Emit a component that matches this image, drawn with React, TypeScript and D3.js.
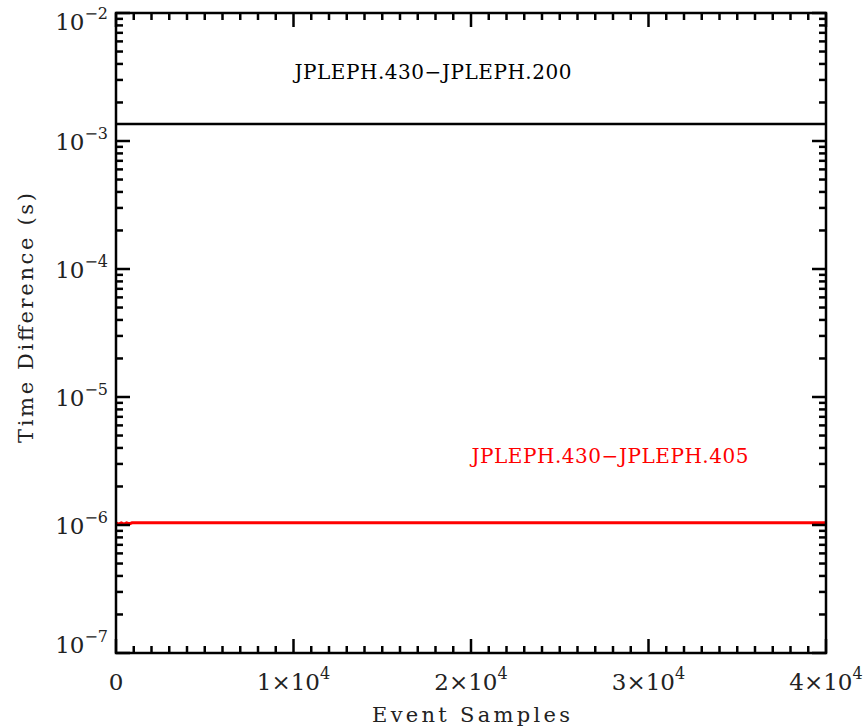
import React from "react";
import * as d3 from "d3";

// Event sample indices and the ephemeris time differences (seconds)
const sampleIndex: number[] = [0, 150, 300, 450, 600, 750, 900, 1050, 5000, 10000, 20000, 30000, 40000];
const diff430vs200: number[] = [1.36e-3, 1.36e-3, 1.36e-3, 1.36e-3, 1.36e-3, 1.36e-3, 1.36e-3, 1.36e-3, 1.36e-3, 1.36e-3, 1.36e-3, 1.36e-3, 1.36e-3];
const diff430vs405: number[] = [1.04e-6, 1.015e-6, 1.04e-6, 1.015e-6, 1.04e-6, 1.02e-6, 1.04e-6, 1.04e-6, 1.04e-6, 1.04e-6, 1.04e-6, 1.04e-6, 1.04e-6];

const xMajorTicks: number[] = [0, 10000, 20000, 30000, 40000];
const xTickMantissa: string[] = ["0", "1×10", "2×10", "3×10", "4×10"];
const xTickExponent: string[] = ["", "4", "4", "4", "4"];
const yDecades: number[] = [-2, -3, -4, -5, -6, -7];

const seriesNames: string[] = ["JPLEPH.430−JPLEPH.200", "JPLEPH.430−JPLEPH.405"];
const seriesColors: string[] = ["#000000", "#ff0000"];

const W = 865;
const H = 728;
const left = 116;
const right = 826;
const top = 13;
const bottom = 653;
const FONT = "'DejaVu Serif', serif";

export default function App() {
  const x = d3.scaleLinear().domain([0, 40000]).range([left, right]);
  const y = d3.scaleLog().domain([1e-7, 1e-2]).range([bottom, top]);

  const line = d3
    .line<[number, number]>()
    .x((d) => x(d[0]))
    .y((d) => y(d[1]));

  const series = [diff430vs200, diff430vs405].map((vals) =>
    sampleIndex.map((s, i) => [s, vals[i]] as [number, number])
  );

  const xMinor = d3.range(0, 40001, 1000).filter((v) => v % 10000 !== 0);
  const yMinor: number[] = [];
  for (let e = -7; e < -2; e++) {
    for (let m = 2; m <= 9; m++) yMinor.push(m * Math.pow(10, e));
  }

  const majorLen = 14;
  const minorLen = 7;
  const tickStroke = 2.5;

  const yLabelBaseline = (e: number) => {
    const ty = y(Math.pow(10, e));
    if (e === -2) return ty + 17;
    if (e === -7) return ty;
    return ty + 9;
  };

  const textStyle = { fontFamily: FONT, fontWeight: 300 } as React.CSSProperties;

  return (
    <div style={{ position: "absolute", left: 0, top: 0 }}>
      <svg width={W} height={H} style={{ display: "block", background: "#fff" }}>
        {/* data lines */}
        {series.map((pts, i) => (
          <path
            key={"s" + i}
            d={line(pts) || ""}
            fill="none"
            stroke={seriesColors[i]}
            strokeWidth={i === 0 ? 2.5 : 3}
          />
        ))}

        {/* x ticks, bottom and top */}
        {xMajorTicks.map((v) => (
          <g key={"xm" + v}>
            <line x1={x(v)} x2={x(v)} y1={bottom} y2={bottom - majorLen} stroke="#000" strokeWidth={tickStroke} />
            <line x1={x(v)} x2={x(v)} y1={top} y2={top + majorLen} stroke="#000" strokeWidth={tickStroke} />
          </g>
        ))}
        {xMinor.map((v) => (
          <g key={"xn" + v}>
            <line x1={x(v)} x2={x(v)} y1={bottom} y2={bottom - minorLen} stroke="#000" strokeWidth={tickStroke} />
            <line x1={x(v)} x2={x(v)} y1={top} y2={top + minorLen} stroke="#000" strokeWidth={tickStroke} />
          </g>
        ))}

        {/* y ticks, left and right */}
        {yDecades.map((e) => (
          <g key={"ym" + e}>
            <line x1={left} x2={left + majorLen} y1={y(Math.pow(10, e))} y2={y(Math.pow(10, e))} stroke="#000" strokeWidth={tickStroke} />
            <line x1={right} x2={right - majorLen} y1={y(Math.pow(10, e))} y2={y(Math.pow(10, e))} stroke="#000" strokeWidth={tickStroke} />
          </g>
        ))}
        {yMinor.map((v, i) => (
          <g key={"yn" + i}>
            <line x1={left} x2={left + minorLen} y1={y(v)} y2={y(v)} stroke="#000" strokeWidth={tickStroke} />
            <line x1={right} x2={right - minorLen} y1={y(v)} y2={y(v)} stroke="#000" strokeWidth={tickStroke} />
          </g>
        ))}

        {/* frame */}
        <rect x={left} y={top} width={right - left} height={bottom - top} fill="none" stroke="#000" strokeWidth={2.5} />

        {/* y tick labels */}
        {yDecades.map((e) => (
          <text key={"yl" + e} x={108} y={yLabelBaseline(e)} textAnchor="end" style={textStyle} fontSize={23} fill="#222">
            10
            <tspan dy={-11} fontSize={16}>{"−" + Math.abs(e)}</tspan>
          </text>
        ))}

        {/* x tick labels */}
        {xMajorTicks.map((v, i) => (
          <text key={"xl" + v} x={x(v)} y={690} textAnchor="middle" style={textStyle} fontSize={23} fill="#222">
            {xTickMantissa[i]}
            {xTickExponent[i] && (
              <tspan dy={-11} fontSize={16}>{xTickExponent[i]}</tspan>
            )}
          </text>
        ))}

        {/* axis titles */}
        <text x={471} y={722} textAnchor="middle" style={textStyle} fontSize={21} fill="#222" textLength={198} lengthAdjust="spacing">
          Event Samples
        </text>
        <text
          transform={`translate(33, 318) rotate(-90)`}
          textAnchor="middle"
          style={textStyle}
          fontSize={21}
          fill="#222"
          textLength={250}
          lengthAdjust="spacing"
        >
          Time Difference (s)
        </text>

        {/* series annotations */}
        <text x={433} y={79} textAnchor="middle" style={textStyle} fontSize={20} fill={seriesColors[0]} textLength={277} lengthAdjust="spacing">
          {seriesNames[0]}
        </text>
        <text x={610} y={463} textAnchor="middle" style={textStyle} fontSize={20} fill={seriesColors[1]} textLength={277} lengthAdjust="spacing">
          {seriesNames[1]}
        </text>
      </svg>
    </div>
  );
}
